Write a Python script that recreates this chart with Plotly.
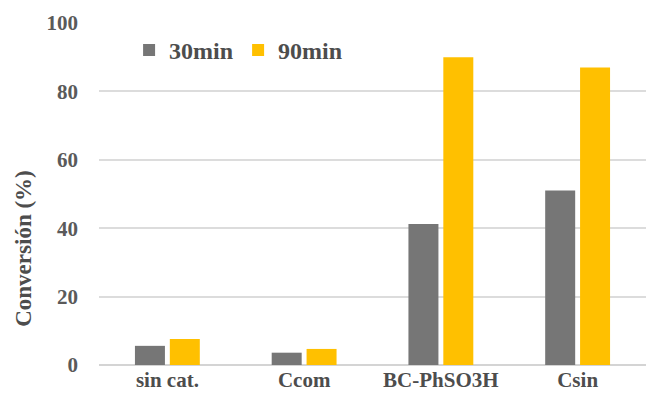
import plotly.graph_objects as go

categories = ["sin cat.", "Ccom", "BC-PhSO3H", "Csin"]
conv_30min = [5.6, 3.6, 41.2, 51.0]
conv_90min = [7.6, 4.7, 90.0, 87.0]
y_ticks = [0, 20, 40, 60, 80, 100]

serif = "'Times New Roman', 'Liberation Serif', 'DejaVu Serif', serif"
text_col = "#4d4d4d"

fig = go.Figure()
fig.add_trace(go.Bar(x=categories, y=conv_30min, name="30min",
                     marker=dict(color="#767676", line=dict(width=0))))
fig.add_trace(go.Bar(x=categories, y=conv_90min, name="90min",
                     marker=dict(color="#FFC000", line=dict(width=0))))

# y-axis title placed as a rotated annotation (sits below the axis middle)
fig.add_annotation(text="Conversión (%)", xref="paper", yref="paper",
                   x=-0.137, y=0.34, textangle=-90, showarrow=False,
                   xanchor="center", yanchor="middle",
                   font=dict(family=serif, size=23, color=text_col, weight="bold"))

fig.update_layout(
    width=646, height=400,
    margin=dict(l=99, r=0, t=23, b=35),
    paper_bgcolor="white", plot_bgcolor="white",
    barmode="group", bargap=0.49, bargroupgap=0.14,
    font=dict(family=serif, color=text_col, size=21),
    legend=dict(orientation="h", x=0.055, y=0.92, xanchor="left", yanchor="middle",
                font=dict(size=24, color=text_col, family=serif, weight="bold"),
                bgcolor="rgba(0,0,0,0)", itemwidth=30, traceorder="normal"),
    xaxis=dict(showgrid=False, showline=False, ticks="", ticklabelstandoff=0,
               tickfont=dict(size=21, color=text_col, family=serif, weight="bold")),
    yaxis=dict(range=[0, 100], tickvals=y_ticks, showgrid=True,
               gridcolor="#dcdcdc", gridwidth=2, zeroline=True,
               zerolinecolor="#d4d4d4", zerolinewidth=2,
               ticks="", ticklabelstandoff=20,
               tickfont=dict(size=21, color="#5a5a5a", family=serif, weight="bold")),
)

fig.write_html("out.html")
